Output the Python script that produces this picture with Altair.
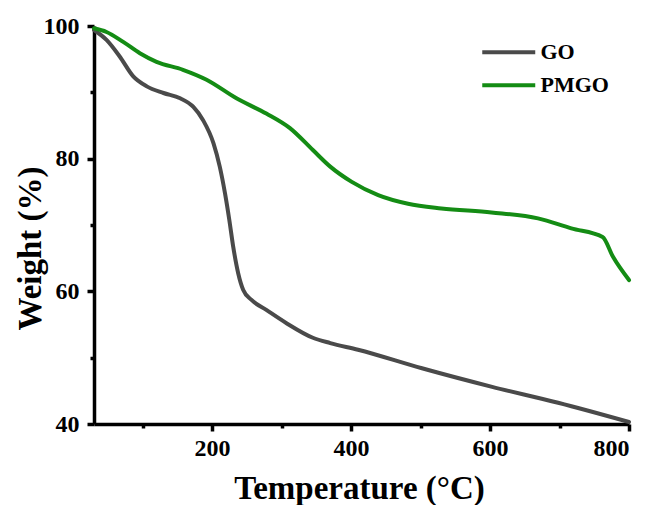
import altair as alt
import pandas as pd

go_t = [30, 48, 67, 86.5, 106, 130, 154, 173, 187, 202, 211, 218.5, 224.7, 230.4, 237.6, 244.8, 256.7, 278, 307, 345, 370, 410, 502, 603, 698, 800]
go_w = [99.4, 97.9, 95.4, 92.4, 90.9, 89.9, 89.1, 87.8, 85.8, 82.3, 78.8, 74.8, 70.8, 66.7, 62.7, 60.2, 58.7, 57.2, 55.2, 53.0, 52.2, 51.2, 48.4, 45.6, 43.2, 40.3]

pmgo_t = [30, 48, 72, 96, 120, 158, 192, 235, 278, 312, 345, 370, 401, 439, 482, 530, 602, 669, 717, 762, 777, 800]
pmgo_w = [99.65, 99.1, 97.6, 95.9, 94.6, 93.4, 91.9, 89.1, 86.8, 84.6, 81.3, 78.8, 76.5, 74.5, 73.2, 72.5, 71.9, 71.0, 69.5, 68.2, 65.2, 61.7]

series = ["GO", "PMGO"]
colors = ["#4a4a4a", "#148c14"]
x_ticks = [100, 200, 300, 400, 500, 600, 700, 800]
y_ticks = [40, 50, 60, 70, 80, 90, 100]

df = pd.concat([
    pd.DataFrame({"T": go_t, "W": go_w, "s": "GO", "o": range(len(go_t))}),
    pd.DataFrame({"T": pmgo_t, "W": pmgo_w, "s": "PMGO", "o": range(len(pmgo_t))}),
])

FONT = "Liberation Serif"

chart = alt.Chart(df).mark_line(strokeWidth=4, interpolate="monotone", strokeCap="round").encode(
    x=alt.X("T:Q", scale=alt.Scale(domain=[30, 800], nice=False, zero=False),
            axis=alt.Axis(title="Temperature (°C)", values=x_ticks,
                          labelExpr="datum.value % 200 === 0 ? datum.label : ''",
                          tickSize={"condition": {"test": "datum.value % 200 === 0", "value": 7}, "value": 4},
                          labelPadding=5, titleBaseline="alphabetic", titleY=74, titleX=265)),
    y=alt.Y("W:Q", scale=alt.Scale(domain=[40, 100], nice=False, zero=False),
            axis=alt.Axis(title="Weight (%)", values=y_ticks,
                          labelExpr="datum.value % 20 === 0 ? datum.label : ''",
                          tickSize={"condition": {"test": "datum.value % 20 === 0", "value": 7}, "value": 4},
                          labelPadding=8, titleBaseline="alphabetic", titleX=-54, titleY=222)),
    color=alt.Color("s:N", scale=alt.Scale(domain=series, range=colors),
                    legend=alt.Legend(title=None, orient="none", legendX=399.25, legendY=10.75,
                                      symbolType="M-2,0H2", symbolSize=702, symbolStrokeWidth=4,
                                      labelFont=FONT, labelFontSize=22, labelFontWeight="bold",
                                      labelColor="black", labelOffset=16.25, rowPadding=6)),
    order="o:Q",
).properties(
    width=535, height=398,
    autosize=alt.AutoSizeParams(type="none"),
    padding={"left": 86, "top": 18, "right": 18, "bottom": 81},
).configure_view(stroke=None).configure_axis(
    grid=False, domainColor="black", domainWidth=3.5, tickColor="black", tickWidth=3.5,
    labelFont=FONT, labelFontSize=24, labelFontWeight="bold", labelColor="black",
    titleFont=FONT, titleFontSize=33, titleFontWeight="bold", titleColor="black",
)

chart.save("out.html", embed_options={"renderer": "svg", "actions": False})
